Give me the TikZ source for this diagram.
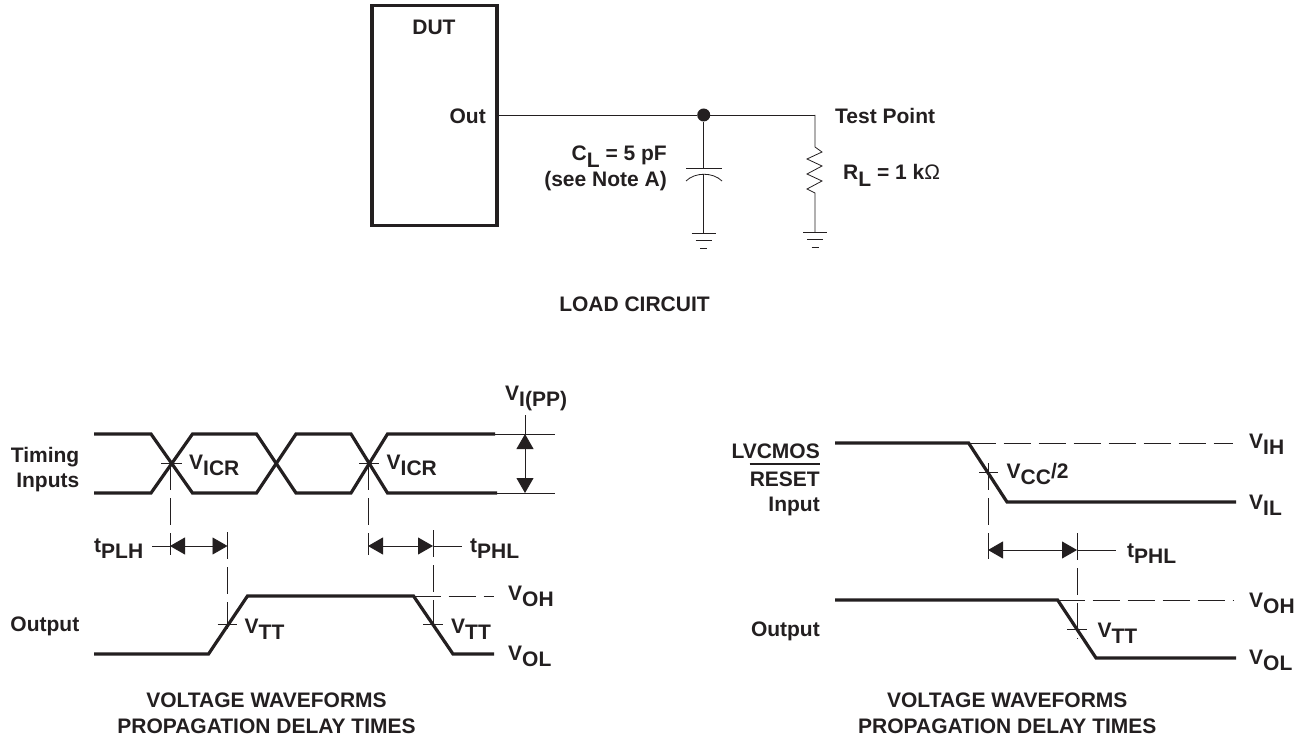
\documentclass[tikz,border=0pt]{standalone}
\usepackage{fontspec}
\setmainfont{Liberation Sans}
\usepackage{tikz}
\usetikzlibrary{arrows.meta,positioning,calc}
\definecolor{ink}{HTML}{231F20}
\newcommand{\lowr}[1]{\raisebox{-0.3em}{#1}}
\begin{document}
\begin{tikzpicture}[
    x=1pt, y=-1pt,
    lbl/.style={inner sep=0pt, text=ink, font=\fontsize{21}{24}\selectfont\bfseries},
    wire/.style={draw=ink, line width=0.8pt},
    wave/.style={draw=ink, line width=3.2pt, line join=miter},
    dut/.style={rectangle, draw=ink, line width=3.6pt, minimum width=125pt, minimum height=220pt, inner sep=0pt},
    level/.style={wire, dash pattern=on 27pt off 8pt},
    meas/.style={wire, {Triangle[length=15pt,width=17pt,fill=ink]}-{Triangle[length=15pt,width=17pt,fill=ink]}},
    dotnode/.style={circle, fill=ink, minimum size=13pt, inner sep=0pt}
]
    \useasboundingbox (0,0) rectangle (1307,738);

    % load circuit
    \node[dut] (box) at (434.5,115.5) {};
    \node[lbl, anchor=base] (duttxt) at (434,35) {DUT};
    \node[lbl, anchor=base east] (outtxt) at (486,124) {Out};
    \coordinate (pin) at (box.east |- 0,115);
    \node[dotnode] (junc) at (703.7,115) {};
    \coordinate (tp) at (815,115);
    \node[lbl, anchor=base west] (tptxt) at (835,124) {Test Point};
    \node[lbl, anchor=base east] (cltxt) at (667,161) {C\lowr{L} = 5 pF};
    \node[lbl, anchor=base east] (notetxt) at (667,187) {(see Note A)};
    \node[lbl, anchor=base west] (rltxt) at (843,180) {R\lowr{L} = 1 k{\mdseries Ω}};
    \node[lbl, anchor=base] (loadtxt) at (634.5,312) {LOAD CIRCUIT};

    \draw[wire] (pin) -- (junc) -- (tp);
    % capacitor
    \coordinate (captop) at (703.7,168);
    \coordinate (capbot) at (703.7,174);
    \coordinate (gnda) at (703.7,233);
    \draw[wire] (junc) -- (captop);
    \draw[wire] (686,168) -- (722,168);
    \draw[wire] (686,181) .. controls (695,172) and (713,172) .. (722,181);
    \draw[wire] (capbot) -- (gnda);
    % resistor
    \coordinate (resa) at (815,147);
    \coordinate (resb) at (815,193);
    \coordinate (gndb) at (815,232);
    \draw[wire] (tp) -- (resa) -- (822,152) -- (807,159) -- (822,166) -- (807,174) -- (822,181) -- (807,189) -- (resb) -- (gndb);
    % grounds
    \foreach \gp in {gnda, gndb} {
        \draw[wire] ($(\gp)+(-12,0)$) -- ($(\gp)+(12,0)$);
        \draw[wire] ($(\gp)+(-8,7.5)$) -- ($(\gp)+(8,7.5)$);
        \draw[wire] ($(\gp)+(-3.5,15)$) -- ($(\gp)+(3.5,15)$);
    }

    % left waveforms
    \draw[wave] (94,434) -- (151,434) -- (192.5,493) -- (256.5,493) -- (296,434) -- (351,434) -- (387.5,493) -- (497,493);
    \draw[wave] (94,493) -- (151,493) -- (192.5,434) -- (256.5,434) -- (296,493) -- (351,493) -- (387.5,434) -- (495,434);
    \draw[wave] (94,654) -- (208.5,654) -- (247.5,596) -- (413.5,596) -- (453,654) -- (494,654);
    \draw[wire] (495,434) -- (554.5,434);
    \draw[wire] (497,493) -- (554.5,493);
    \draw[wire] (525,415) -- (525,434);
    \draw[meas] (525,434) -- (525,493);
    \draw[wire] (161,463) -- (182,463);
    \draw[wire] (359,463) -- (378.5,463);
    \draw[wire] (217.5,624) -- (236.5,624);
    \draw[wire] (423,624) -- (443,624);
    \draw[level] (170,463) -- (170,555);
    \draw[level] (368,463) -- (368,555);
    \draw[level] (227.5,532) -- (227.5,635);
    \draw[level] (433,530) -- (433,635);
    \draw[level] (413.5,596) -- (494,596);
    \draw[meas] (170,546) -- (227.5,546);
    \draw[meas] (368,546) -- (433,546);
    \draw[wire] (152,546) -- (170,546);
    \draw[wire] (433,546) -- (462,546);

    \node[lbl, anchor=base east] (timtxt) at (79.5,462) {Timing};
    \node[lbl, anchor=base east] (inptxt) at (79.5,487) {Inputs};
    \node[lbl, anchor=base east] (outa) at (79.5,631) {Output};
    \node[lbl, anchor=base west] (vicra) at (189,469) {V\lowr{ICR}};
    \node[lbl, anchor=base west] (vicrb) at (386.5,469) {V\lowr{ICR}};
    \node[lbl, anchor=base west] (vpp) at (505,400) {V\lowr{I(PP)}};
    \node[lbl, anchor=base west] (tplh) at (94,552.5) {t\lowr{PLH}};
    \node[lbl, anchor=base west] (tphla) at (470,552.5) {t\lowr{PHL}};
    \node[lbl, anchor=base west] (vtta) at (244.5,633) {V\lowr{TT}};
    \node[lbl, anchor=base west] (vttb) at (451,633) {V\lowr{TT}};
    \node[lbl, anchor=base west] (voha) at (508,600) {V\lowr{OH}};
    \node[lbl, anchor=base west] (vola) at (508,660) {V\lowr{OL}};
    \node[lbl, anchor=base] (capa) at (266.5,707) {VOLTAGE WAVEFORMS};
    \node[lbl, anchor=base] (capb) at (266.5,733) {PROPAGATION DELAY TIMES};

    % right waveforms
    \draw[wave] (835,443) -- (968.6,443) -- (1007,502) -- (1236,502);
    \draw[wave] (835,600) -- (1057.6,600) -- (1096,658) -- (1236,658);
    \draw[level] (968.6,443) -- (1233,443);
    \draw[level] (1057.6,600) -- (1233,600);
    \draw[wire] (979,472) -- (998.4,472);
    \draw[wire] (1067,629) -- (1086.5,629);
    \draw[level] (988,463) -- (988,559);
    \draw[level] (1077,533) -- (1077,639);
    \draw[meas] (988,550) -- (1077,550);
    \draw[wire] (1077,550) -- (1115.5,550);

    \node[lbl, anchor=base east] (lvc) at (820,458) {LVCMOS};
    \node[lbl, anchor=base east] (rst) at (820,486) {RESET};
    \draw[ink, line width=1.8pt] (rst.west |- 0,464) -- (rst.east |- 0,464);
    \node[lbl, anchor=base east] (inpb) at (820,511) {Input};
    \node[lbl, anchor=base east] (outb) at (820,636) {Output};
    \node[lbl, anchor=base west] (vih) at (1249,448) {V\lowr{IH}};
    \node[lbl, anchor=base west] (vil) at (1249,509) {V\lowr{IL}};
    \node[lbl, anchor=base west] (vohb) at (1249,607) {V\lowr{OH}};
    \node[lbl, anchor=base west] (volb) at (1249,664) {V\lowr{OL}};
    \node[lbl, anchor=base west] (vttc) at (1097.4,637) {V\lowr{TT}};
    \node[lbl, anchor=base west] (vcc) at (1006.5,478) {V\lowr{CC}/2};
    \node[lbl, anchor=base west] (tphlb) at (1127,557) {t\lowr{PHL}};
    \node[lbl, anchor=base] (capc) at (1007.3,707) {VOLTAGE WAVEFORMS};
    \node[lbl, anchor=base] (capd) at (1007.3,733) {PROPAGATION DELAY TIMES};
\end{tikzpicture}
\end{document}
